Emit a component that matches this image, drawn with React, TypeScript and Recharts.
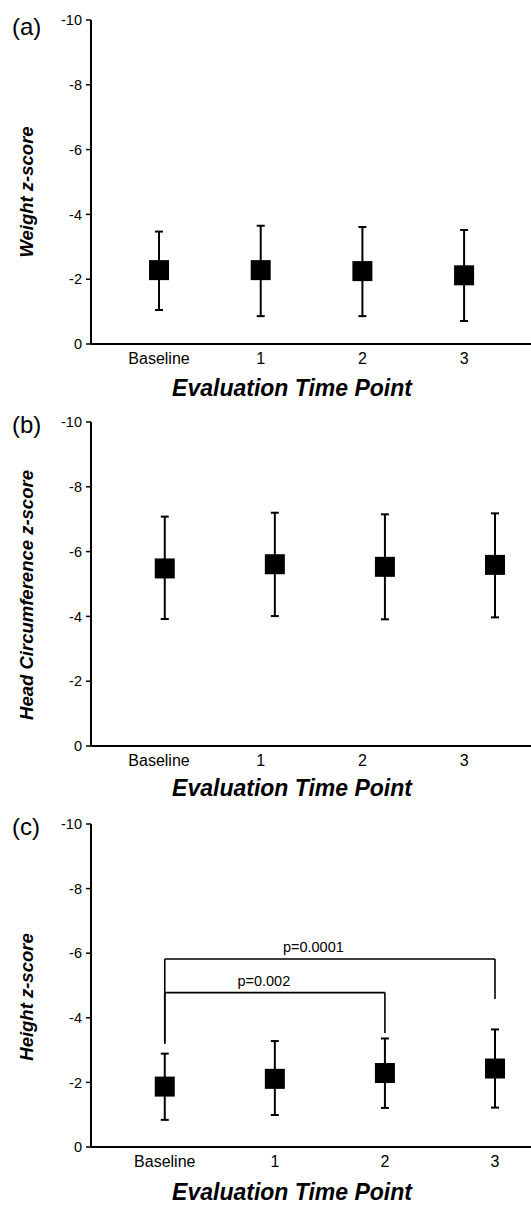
import React from "react";
import {
  ComposedChart,
  Scatter,
  XAxis,
  YAxis,
  ErrorBar,
  ReferenceLine,
  ReferenceDot,
} from "recharts";

// ---------- data ----------
const timePoints = ["Baseline", "1", "2", "3"];
const xTicks = [0, 1, 2, 3];
const yTicks = [-10, -8, -6, -4, -2, 0];

const weightMean = [-2.28, -2.28, -2.25, -2.12];
const weightLow = [-3.47, -3.65, -3.61, -3.52];
const weightHigh = [-1.05, -0.86, -0.86, -0.71];

const headMean = [-5.48, -5.61, -5.53, -5.59];
const headLow = [-7.08, -7.2, -7.15, -7.18];
const headHigh = [-3.92, -4.01, -3.91, -3.97];

const heightMean = [-1.87, -2.11, -2.29, -2.43];
const heightLow = [-2.89, -3.28, -3.36, -3.64];
const heightHigh = [-0.84, -0.99, -1.21, -1.22];

const bracketFrom = [0, 0];
const bracketTo = [3, 2];
const bracketLevel = [-5.82, -4.78];
const bracketLeftEnd = [-3.2, -3.2];
const bracketRightEnd = [-4.58, -3.53];
const bracketText = ["p=0.0001", "p=0.002"];

// ---------- styles ----------
const FONT = "'Liberation Sans', Arial, Helvetica, sans-serif";
const W = 531;
const PLOT_LEFT = 91;
const PLOT_W = W - PLOT_LEFT;
const domainA: [number, number] = [-0.669, 3.658];
const domainC: [number, number] = [-0.67, 3.327];

type Row = { i: number; label: string; mean: number; err: [number, number] };

const buildRows = (mean: number[], low: number[], high: number[]): Row[] =>
  timePoints.map((t, i) => ({
    i,
    label: t,
    mean: mean[i],
    err: [mean[i] - low[i], high[i] - mean[i]],
  }));

const Square = (p: any) => (
  <rect x={p.cx - 10} y={p.cy - 10} width={20} height={20} fill="#000" />
);

const makeTick = (labelDomain: [number, number]) => (p: any) => {
  const v = Number(p.payload.value);
  const x =
    PLOT_LEFT + ((v - labelDomain[0]) / (labelDomain[1] - labelDomain[0])) * PLOT_W;
  return (
    <text
      x={x}
      y={p.y}
      dy="0.71em"
      textAnchor="middle"
      fontFamily={FONT}
      fontSize={16}
      fill="#000"
    >
      {timePoints[v]}
    </text>
  );
};

type PanelProps = {
  top: number;
  height: number;
  marginTop: number;
  plotH: number;
  letter: string;
  letterY: number;
  yTitle: string;
  yTitleY: number;
  xTitleY: number;
  labelDomain: [number, number];
  pointDomain: [number, number];
  rows: Row[];
  brackets?: boolean;
};

const Panel = (pp: PanelProps) => {
  const xAxisH = pp.height - pp.marginTop - pp.plotH;
  const yLabel = () => (
    <g>
      <text x={12} y={pp.letterY} fontFamily={FONT} fontSize={24} fill="#000">
        {pp.letter}
      </text>
      <text
        x={33}
        y={pp.yTitleY}
        transform={`rotate(-90 33 ${pp.yTitleY})`}
        textAnchor="middle"
        fontFamily={FONT}
        fontSize={18.5}
        fontWeight="bold"
        fontStyle="italic"
        fill="#000"
      >
        {pp.yTitle}
      </text>
    </g>
  );
  const xLabel = () => (
    <text
      x={292}
      y={pp.xTitleY}
      textAnchor="middle"
      fontFamily={FONT}
      fontSize={23}
      fontWeight="bold"
      fontStyle="italic"
      fill="#000"
    >
      Evaluation Time Point
    </text>
  );

  return (
    <div style={{ position: "absolute", left: 0, top: pp.top, width: W, height: pp.height }}>
      <ComposedChart
        width={W}
        height={pp.height}
        data={pp.rows}
        margin={{ top: pp.marginTop, right: 0, bottom: 0, left: 0 }}
      >
        <XAxis
          type="number"
          dataKey="i"
          domain={pp.pointDomain}
          allowDataOverflow
          ticks={xTicks}
          interval={0}
          tickLine={false}
          tickSize={0}
          tickMargin={9}
          height={xAxisH}
          axisLine={{ stroke: "#000", strokeWidth: 2 }}
          tick={makeTick(pp.labelDomain)}
          label={xLabel}
        />
        <YAxis
          type="number"
          dataKey="mean"
          domain={[-10, 0]}
          allowDataOverflow
          reversed
          ticks={yTicks}
          interval={0}
          width={PLOT_LEFT}
          tickSize={5}
          tickMargin={4}
          axisLine={{ stroke: "#000", strokeWidth: 2 }}
          tickLine={{ stroke: "#000", strokeWidth: 1.5 }}
          tick={{ fill: "#000", fontSize: 14.5, fontFamily: FONT }}
          label={yLabel}
        />
        {pp.brackets &&
          bracketText.map((t, k) => (
            <ReferenceLine
              key={`bl${k}`}
              segment={[
                { x: bracketFrom[k], y: bracketLeftEnd[k] },
                { x: bracketFrom[k], y: bracketLevel[k] },
              ]}
              stroke="#000"
              strokeWidth={1.6}
            />
          ))}
        {pp.brackets &&
          bracketText.map((t, k) => (
            <ReferenceLine
              key={`bh${k}`}
              segment={[
                { x: bracketFrom[k], y: bracketLevel[k] },
                { x: bracketTo[k], y: bracketLevel[k] },
              ]}
              stroke="#000"
              strokeWidth={1.6}
            />
          ))}
        {pp.brackets &&
          bracketText.map((t, k) => (
            <ReferenceLine
              key={`br${k}`}
              segment={[
                { x: bracketTo[k], y: bracketLevel[k] },
                { x: bracketTo[k], y: bracketRightEnd[k] },
              ]}
              stroke="#000"
              strokeWidth={1.6}
            />
          ))}
        {pp.brackets &&
          bracketText.map((t, k) => (
            <ReferenceDot
              key={`bt${k}`}
              x={bracketFrom[k] + (bracketTo[k] - bracketFrom[k]) * 0.45}
              y={bracketLevel[k]}
              r={0}
              shape={(p: any) => (
                <text
                  x={p.cx}
                  y={p.cy - 7}
                  textAnchor="middle"
                  fontFamily={FONT}
                  fontSize={14.5}
                  fill="#000"
                >
                  {t}
                </text>
              )}
            />
          ))}
        <Scatter dataKey="mean" fill="#000" shape={Square} isAnimationActive={false}>
          <ErrorBar
            dataKey="err"
            direction="y"
            width={4}
            stroke="#000"
            strokeWidth={2}
            isAnimationActive={false}
          />
        </Scatter>
      </ComposedChart>
    </div>
  );
};

export default function App() {
  return (
    <div
      style={{
        position: "absolute",
        left: 0,
        top: 0,
        width: W,
        height: 1206,
        background: "#fff",
        overflow: "hidden",
      }}
    >
      <style>{"svg { overflow: visible; }"}</style>
      <Panel
        top={0}
        height={400}
        marginTop={20}
        plotH={324}
        letter="(a)"
        letterY={35}
        yTitle="Weight z-score"
        yTitleY={192}
        xTitleY={396}
        labelDomain={domainA}
        pointDomain={domainA}
        rows={buildRows(weightMean, weightLow, weightHigh)}
      />
      <Panel
        top={400}
        height={400}
        marginTop={22}
        plotH={324}
        letter="(b)"
        letterY={33}
        yTitle="Head Circumference z-score"
        yTitleY={195}
        xTitleY={396}
        labelDomain={domainA}
        pointDomain={domainC}
        rows={buildRows(headMean, headLow, headHigh)}
      />
      <Panel
        top={800}
        height={406}
        marginTop={24}
        plotH={323}
        letter="(c)"
        letterY={35}
        yTitle="Height z-score"
        yTitleY={197}
        xTitleY={400}
        labelDomain={domainC}
        pointDomain={domainC}
        rows={buildRows(heightMean, heightLow, heightHigh)}
        brackets
      />
    </div>
  );
}
